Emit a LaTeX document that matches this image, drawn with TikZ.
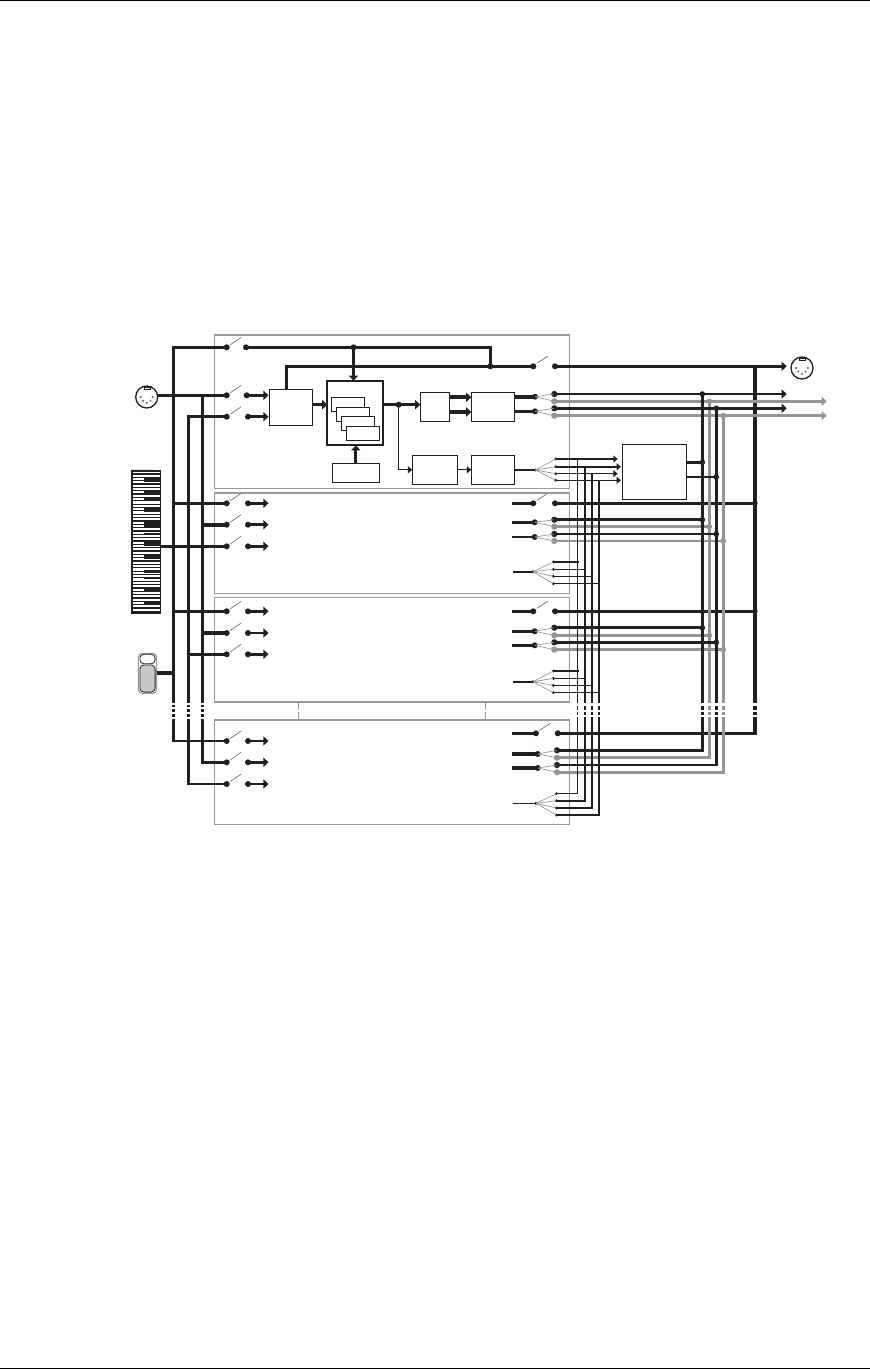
\documentclass[tikz,border=0pt]{standalone}
\usepackage{tikz}
\usetikzlibrary{arrows.meta, positioning, shapes.geometric}
\usepackage{xcolor}
\definecolor{mink}{HTML}{231F20}
\definecolor{mgrey}{HTML}{939598}
\definecolor{mframe}{HTML}{999999}
\definecolor{mpedal}{HTML}{C8C8C8}
\tikzset{
  partframe/.style={draw=mframe, line width=1pt, minimum width=265.95pt, outer sep=0pt},
  mbox/.style={draw=mink, line width=0.8pt, outer sep=0pt, inner sep=0pt},
  patchbox/.style={mbox, fill=white, minimum width=24.75pt, minimum height=10.8pt},
  bus/.style={line width=2.2pt, mink},
  gbus/.style={line width=2.2pt, mgrey},
  hbus/.style={line width=2.8pt, mink},
  thinbus/.style={line width=0.9pt, mink},
  busarr/.style={bus, -{Triangle[length=3.8pt,width=6.8pt]}},
  gbusarr/.style={gbus, -{Triangle[length=3.8pt,width=6.8pt]}},
  thinarr/.style={thinbus, -{Triangle[length=3.3pt,width=5.2pt]}},
  lever/.style={line width=0.5pt, mink!65},
  fanline/.style={line width=0.5pt, mgrey},
  jdot/.style={circle, fill=mink, inner sep=0pt, minimum size=4.5pt, outer sep=0pt},
  gdot/.style={jdot, fill=mgrey},
  sdot/.style={jdot, minimum size=2.4pt},
  midicon/.style={circle, draw=mink, line width=1pt, minimum size=16.5pt, inner sep=0pt, outer sep=0pt},
  plink/.style={draw=mframe, line width=0.7pt, dash pattern=on 6pt off 1.5pt},
}
\begin{document}
\begin{tikzpicture}[x=0.75pt, y=-0.75pt]
  \useasboundingbox (0,0) rectangle (870,1370);
  \fill[white] (0,0) rectangle (870,1370);

  %% Page rules
  \coordinate (ruleTL) at (0,0.5);
  \coordinate (ruleTR) at (870,0.5);
  \coordinate (ruleBL) at (0,1368.5);
  \coordinate (ruleBR) at (870,1368.5);
  \draw[black, line width=0.8pt] (ruleTL) -- (ruleTR);
  \draw[black, line width=0.8pt] (ruleBL) -- (ruleBR);

  %% Part frames
  \node[partframe, minimum height=115.3pt] (part1) at (392,411.85) {};
  \node[partframe, minimum height=75.5pt] (part2) at (392,543.35) {};
  \node[partframe, minimum height=78.2pt] (part3) at (392,649.85) {};
  \node[partframe, minimum height=78.2pt, line width=0.8pt] (part4) at (392,772.15) {};
  \coordinate (linkL) at (298,711);
  \coordinate (linkR) at (485.5,711);
  \draw[plink] (linkL |- part3.south) -- (linkL |- part4.north);
  \draw[plink] (linkR |- part3.south) -- (linkR |- part4.north);

  %% Boxes of the first part
  \node[mbox, minimum width=32.6pt, minimum height=27pt] (boxA) at (291,407.3) {};
  \node[mbox, line width=1.6pt, minimum width=42pt, minimum height=48.5pt] (boxB) at (355.3,413) {};
  \node[mbox, minimum width=35.25pt, minimum height=14.25pt] (boxC) at (355.8,472.8) {};
  \node[mbox, minimum width=21.75pt, minimum height=21.75pt] (boxD) at (434.8,406.8) {};
  \node[mbox, minimum width=32.25pt, minimum height=21.75pt] (boxE) at (492.8,406.8) {};
  \node[mbox, minimum width=33.75pt, minimum height=21.75pt] (boxF) at (434.8,469.8) {};
  \node[mbox, minimum width=32.25pt, minimum height=21.75pt] (boxG) at (492.8,469.8) {};
  \node[mbox, minimum width=48.3pt, minimum height=41.55pt] (boxH) at (654.5,472) {};
  \node[patchbox] (patch1) at (348.3,404.5) {};
  \node[patchbox] (patch2) at (352.8,414.5) {};
  \node[patchbox] (patch3) at (357.8,423.5) {};
  \node[patchbox] (patch4) at (362.8,433.5) {};

  %% MIDI sockets
  \node[midicon] (midiin) at (146.7,397) {};
  \node[midicon] (midiout) at (802,368) {};
  \foreach \con in {midiin,midiout}{
    \begin{scope}[shift={(\con)}]
      \draw[mink, line width=0.5pt] (-2.7,-10) rectangle (3.3,-8);
      \foreach \px/\py in {-6/0,-3.7/3.7,0/6,3.7/3.7,6/0}
        \fill[mink!70] (\px,\py) circle (0.8pt);
    \end{scope}
  }

  %% Keyboard
  \node[draw=mink, line width=0.9pt, minimum width=21.6pt, minimum height=106.5pt, outer sep=0pt] (keys) at (146.4,542) {};
  \foreach \ky in {474,477.35,...,612}
    \draw[mink, line width=0.95pt] (keys.west |- 0,\ky) -- (keys.east |- 0,\ky);
  \foreach \ka/\kb in {477.3/482.3,490/493.3,498.3/500,508.3/512.3,521.7/527.3,533.3/535,541.7/545.5,
      554.6/559.3,569.5/572.8,577.3/579.3,586.7/591.7,601.7/605}
    \fill[mink] (144,\ka) rectangle (keys.east |- 0,\kb);
  \draw[mink, line width=1.4pt] (131,470.7) -- (keys.north east);

  %% Pedal
  \node[draw=mgrey, line width=0.8pt, rounded corners=3pt, minimum width=13.8pt, minimum height=30pt, outer sep=0pt] (pedal) at (147.5,673.3) {};
  \node[draw=mink, line width=0.6pt, fill=white, rounded corners=3pt, minimum width=11.4pt, minimum height=7.2pt, inner sep=0pt] (pedalT) at (147.5,659) {};
  \node[draw=mink, line width=0.6pt, fill=mpedal, rounded corners=3pt, minimum width=11.4pt, minimum height=20.4pt, inner sep=0pt] (pedalB) at (147.5,678.5) {};

  %% Input switches
  \node[jdot] (sw1a) at (226.7,347.3) {};
  \node[jdot] (so1a) at (246,347.3) {};
  \draw[lever] (sw1a) ++(3.5,-2.5) -- ++(11,-7.5);
  \foreach \rw/\y/\ox in {1b/395.3/246.7, 1c/416.7/248, 2a/503.3/248, 2b/524.7/248, 2c/546.3/248,
      3a/611.3/248, 3b/633/248, 3c/654.3/248, 4a/741/248, 4b/762.3/248, 4c/784/248}{
    \node[jdot] (sw\rw) at (226.7,\y) {};
    \node[jdot] (so\rw) at (\ox,\y) {};
    \coordinate (st\rw) at (268.5,\y);
    \draw[lever] (sw\rw) ++(3.5,-2.5) -- ++(11,-7.5);
    \draw[busarr] (so\rw.center) -- (st\rw);
  }

  %% Input buses
  \coordinate (busA) at (173.3,741);
  \coordinate (busB) at (188.3,784);
  \coordinate (busC) at (202.3,762.3);
  \draw[bus] (sw1a.center) -| (busA) -- (sw4a.center);
  \draw[bus] (sw1c.center) -| (busB) -- (sw4c.center);
  \draw[bus] (sw1b.center) -| (busC) -- (sw4b.center);
  \draw[bus] (midiin.east |- sw1b) -- (sw1b.center);
  \foreach \rw in {2a,3a}
    \draw[bus] (sw\rw.center) -- (sw\rw -| busA);
  \foreach \rw in {2b,3b}
    \draw[hbus] (sw\rw.center) -- (sw\rw -| busC);
  \draw[bus] (sw3c.center) -- (sw3c -| busB);
  \draw[bus] (sw2c.center) -- (keys.east |- sw2c);
  \draw[hbus] (pedal.east) -- (pedal.east -| busA);

  %% Signal path of the first part
  \node[jdot] (joinB) at (398.7,404.7) {};
  \node[jdot] (topJ) at (353.5,347.3) {};
  \node[jdot] (joinT) at (490.3,366.3) {};
  \node[jdot] (swT) at (533.3,366.3) {};
  \node[jdot] (soT) at (555,366.3) {};
  \coordinate (thruA) at (286.7,366.3);
  \coordinate (thruTip) at (786.7,366.3);
  \draw[lever] (swT) ++(3.5,-3) -- ++(11,-7);
  \draw[bus] (so1a.center) -| (joinT.center);
  \draw[busarr] (topJ.center) -- (topJ |- boxB.north);
  \draw[bus] (thruA |- boxA.north) -- (thruA) -- (swT.center);
  \draw[busarr] (boxA.east |- joinB) -- (boxB.west |- joinB);
  \draw[busarr] (boxC.north) -- (boxC.north |- boxB.south);
  \draw[busarr] (boxB.east |- joinB) -- (boxD.west |- joinB);
  \draw[thinarr] (joinB.center) |- (boxF.west);
  \draw[thinarr] (boxF.east) -- (boxG.west);
  \coordinate (dupper) at (450,397.3);
  \coordinate (dlower) at (450,412);
  \draw[hbus, -{Triangle[length=3.8pt,width=6.8pt]}] (boxD.east |- dupper) -- (boxE.west |- dupper);
  \draw[hbus, -{Triangle[length=3.8pt,width=6.8pt]}] (boxD.east |- dlower) -- (boxE.west |- dlower);

  %% Outputs of each part
  \foreach \fr/\ax/\ox/\fx/\ya/\yb/\oa/\ob/\oc/\od/\yf/\fa/\fb/\fc/\fd in {
      1/535/554.3/535.3/396.7/411.3/394/401.3/408.3/415.7/470/459/466.7/473.7/480.3,
      2/534.7/554.3/533/522.3/537/519.7/526.7/534/541/571.7/562/569.3/576.3/583.7,
      3/534.7/554.3/533/631.3/645.3/627.7/635.3/642.3/649.7/681.7/671/678.3/685.3/692.7,
      4/537.7/557/536/754/768/750.3/757.7/765/772.3/803.3/793.7/800.7/808/815}{
    \node[jdot] (in\fr a) at (\ax,\ya) {};
    \node[jdot] (in\fr b) at (\ax,\yb) {};
    \node[jdot, minimum size=4.7pt] (out\fr a) at (\ox,\oa) {};
    \node[gdot, minimum size=4.7pt] (out\fr b) at (\ox,\ob) {};
    \node[jdot, minimum size=4.7pt] (out\fr c) at (\ox,\oc) {};
    \node[gdot, minimum size=4.7pt] (out\fr d) at (\ox,\od) {};
    \node[sdot] (fan\fr) at (\fx,\yf) {};
    \foreach \k/\yy in {a/\fa,b/\fb,c/\fc,d/\fd}{
      \node[sdot] (fo\fr\k) at (\fx+20.4,\yy) {};
      \draw[fanline] (fan\fr.center) -- (fo\fr\k.center);
    }
    \draw[fanline] (in\fr a.center) -- (out\fr a.center);
    \draw[fanline] (in\fr a.center) -- (out\fr b.center);
    \draw[fanline] (in\fr b.center) -- (out\fr c.center);
    \draw[fanline] (in\fr b.center) -- (out\fr d.center);
  }
  \coordinate (st2a) at (512,522.3);
  \coordinate (st2b) at (512,537);
  \coordinate (st3a) at (512,631.3);
  \coordinate (st3b) at (512,645.3);
  \coordinate (st4a) at (512,754);
  \coordinate (st4b) at (512,768);
  \foreach \fr in {2,3}{
    \draw[bus] (st\fr a) -- (in\fr a.center);
    \draw[bus] (st\fr b) -- (in\fr b.center);
  }
  \draw[hbus] (st4a) -- (in4a.center);
  \draw[hbus] (st4b) -- (in4b.center);
  \coordinate (fs2) at (513,571.7);
  \coordinate (fs3) at (513,681.7);
  \coordinate (fs4) at (513,803.3);
  \foreach \fr in {2,3,4}
    \draw[line width=1.2pt, mink] (fs\fr) -- (fan\fr.center);
  \draw[hbus] (boxE.east |- in1a) -- (in1a.center);
  \draw[bus] (boxE.east |- in1b) -- (in1b.center);
  \draw[thinbus] (boxG.east |- fan1) -- (fan1.center);

  %% Direct switches of parts 2 to 4
  \foreach \fr/\sa/\sb/\yy in {2/533.3/555/503.3, 3/533.3/555/611.3, 4/536/557.7/733.3}{
    \node[jdot] (dl\fr) at (\sa,\yy) {};
    \node[jdot] (dr\fr) at (\sb,\yy) {};
    \coordinate (ds\fr) at (512,\yy);
    \draw[lever] (dl\fr) ++(3.5,-3) -- ++(11,-7);
    \draw[bus] (ds\fr) -- (dl\fr.center);
  }

  %% Through line and right bus
  \coordinate (vT) at (755,366.3);
  \draw[line width=2.6pt, mink] (dr4.center) -| (vT);
  \foreach \fr in {2,3}{
    \node[jdot, minimum size=4pt] (jT\fr) at (dr\fr -| vT) {};
    \draw[bus] (dr\fr.center) -- (jT\fr.center);
  }
  \draw[busarr] (soT.center) -- (thruTip);

  %% Grey sends
  \coordinate (vB) at (709.3,401.3);
  \coordinate (vD) at (723.3,415.7);
  \coordinate (tipB) at (826.7,401.3);
  \coordinate (tipD) at (826.7,415.7);
  \draw[gbus] (out4b.center) -| (vB);
  \draw[gbus] (out4d.center) -| (vD);
  \draw[gbusarr] (out1b.center) -- (tipB);
  \draw[gbusarr] (out1d.center) -- (tipD);
  \foreach \fr in {1,2,3}{
    \node[gdot, minimum size=4.2pt] (jB\fr) at (out\fr b -| vB) {};
    \node[gdot, minimum size=4.2pt] (jD\fr) at (out\fr d -| vD) {};
  }
  \foreach \fr in {2,3}{
    \draw[gbus] (out\fr b.center) -- (jB\fr.center);
    \draw[gbus] (out\fr d.center) -- (jD\fr.center);
  }

  %% Black sends
  \coordinate (vA) at (702.3,394);
  \coordinate (vC) at (716.3,408.3);
  \coordinate (tipA) at (786.7,394);
  \coordinate (tipC) at (786.7,408.3);
  \draw[bus] (out4a.center) -| (vA);
  \draw[bus] (out4c.center) -| (vC);
  \draw[busarr] (out1a.center) -- (tipA);
  \draw[busarr] (out1c.center) -- (tipC);
  \foreach \fr in {1,2,3}{
    \node[jdot, minimum size=4.2pt] (jA\fr) at (out\fr a -| vA) {};
    \node[jdot, minimum size=4.2pt] (jC\fr) at (out\fr c -| vC) {};
  }
  \foreach \fr in {2,3}{
    \draw[bus] (out\fr a.center) -- (jA\fr.center);
    \draw[bus] (out\fr c.center) -- (jC\fr.center);
  }
  \node[jdot, minimum size=4.2pt] (mixA) at (702.3,462.3) {};
  \node[jdot, minimum size=4.2pt] (mixC) at (716.3,477) {};
  \draw[bus] (boxH.east |- mixA) -- (mixA.center);
  \draw[bus] (boxH.east |- mixC) -- (mixC.center);

  %% Effect sends down the parts
  \coordinate (vFa) at (577.7,459);
  \coordinate (vFb) at (585,466.7);
  \coordinate (vFc) at (592,473.7);
  \coordinate (vFd) at (599,480.3);
  \draw[line width=0.8pt, mink] (fo4a.center) -| (vFa);
  \draw[line width=1.25pt, mink] (fo4b.center) -| (vFb);
  \draw[line width=1.25pt, mink] (fo4c.center) -| (vFc);
  \draw[line width=1.25pt, mink] (fo4d.center) -| (vFd);
  \foreach \fr in {2,3}{
    \foreach \k/\v in {a/vFa,b/vFb,c/vFc,d/vFd}
      \draw[thinbus] (fo\fr\k.center) -- ([xshift=1pt]fo\fr\k -| \v);
  }
  \draw[line width=1.1pt, mink, -{Triangle[length=3.3pt,width=5.2pt]}] (fo1a.center) -- ([xshift=-3.45pt]fo1a -| boxH.west);
  \draw[line width=1.6pt, mink, -{Triangle[length=3.3pt,width=5.2pt]}] (fo1b.center) -- ([xshift=-1pt]fo1b -| boxH.west);
  \draw[line width=0.9pt, mink, -{Triangle[length=3.3pt,width=5.2pt]}] (fo1c.center) -- ([xshift=-3.45pt]fo1c -| boxH.west);
  \draw[line width=0.9pt, mink, -{Triangle[length=3.3pt,width=5.2pt]}] (fo1d.center) -- ([xshift=-1pt]fo1d -| boxH.west);

  %% Breaks in the long lines
  \foreach \ya/\yb in {702.7/704.5,707/708.7,712/713.5,716.7/719}
    \fill[white] (170,\ya) rectangle (206,\yb);
  \foreach \ya/\yb in {702.5/706,710/711.5,715/716.5}{
    \fill[white] (575,\ya) rectangle (602,\yb);
    \fill[white] (699,\ya) rectangle (727,\yb);
    \fill[white] (752,\ya) rectangle (758,\yb);
  }
\end{tikzpicture}
\end{document}
